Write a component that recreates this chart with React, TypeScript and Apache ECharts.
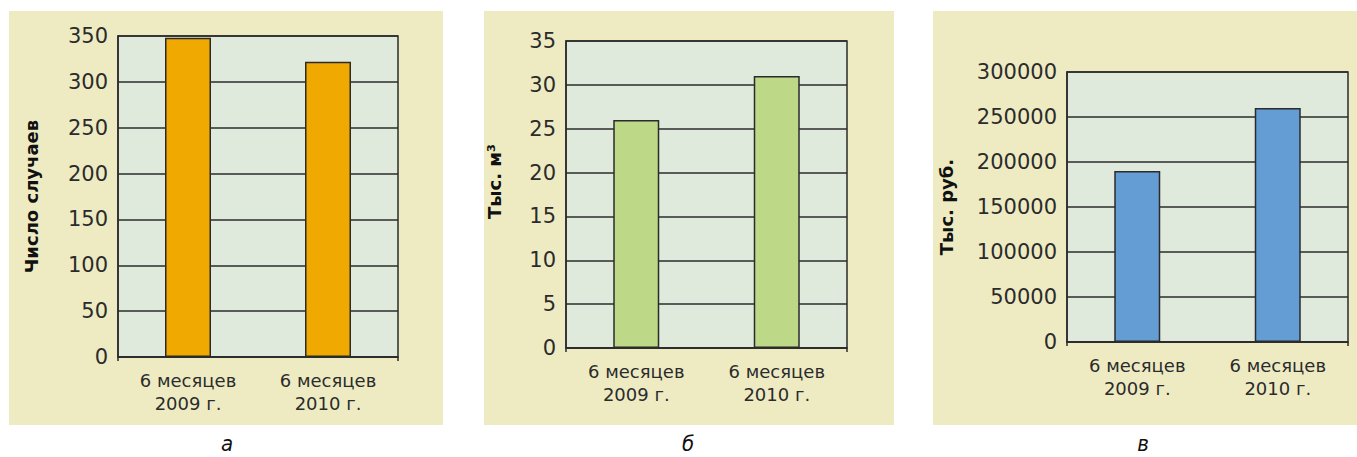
import React, { useEffect, useRef } from "react";
import * as echarts from "echarts";

const categories = ["6 месяцев\n2009 г.", "6 месяцев\n2010 г."];
const casesValues = [348, 322];
const volumeValues = [26, 31];
const costValues = [190000, 260000];
const captions = ["а", "б", "в"];
const yNames = ["Число случаев", "Тыс. м³", "Тыс. руб."];

const PANEL_BG = "#eeebc3";
const PLOT_BG = "#dfeadd";
const LINE = "#2b2b2b";
const TEXT = "#2b2b2b";
const FONT = "'DejaVu Sans'";

export default function App() {
  const ref = useRef<HTMLDivElement>(null);
  useEffect(() => {
    if (!ref.current) return;
    const chart = echarts.init(ref.current, null, { renderer: "svg" });
    const grids = [
      { left: 118, top: 36, width: 280, height: 321 },
      { left: 566, top: 41, width: 281, height: 307 },
      { left: 1067, top: 72, width: 281, height: 270 },
    ];
    const yCfg = [
      { max: 350, interval: 50, nameGap: 78, pad: [0, 0, 0, 0] },
      { max: 35, interval: 5, nameGap: 63, pad: [0, 0, 0, 26] },
      { max: 300000, interval: 50000, nameGap: 112, pad: [0, 0, 0, 0] },
    ];
    const colors = ["#f0a900", "#bdd886", "#639dd4"];
    const datasets = [casesValues, volumeValues, costValues];
    const option: any = {
      animation: false,
      graphic: [
        { type: "rect", shape: { x: 9, y: 11, width: 434, height: 414 }, style: { fill: PANEL_BG }, z: -10 },
        { type: "rect", shape: { x: 484, y: 11, width: 410, height: 414 }, style: { fill: PANEL_BG }, z: -10 },
        { type: "rect", shape: { x: 933, y: 11, width: 424, height: 414 }, style: { fill: PANEL_BG }, z: -10 },
        ...[227, 688, 1143].map((x, i) => ({
          type: "text",
          x,
          y: 443,
          style: {
            text: captions[i],
            fill: "#111",
            font: "italic 22px 'Liberation Sans Narrow', 'DejaVu Sans Condensed', sans-serif",
            textAlign: "center",
            textVerticalAlign: "middle",
          },
        })),
      ],
      grid: grids.map((g) => ({
        ...g,
        show: true,
        backgroundColor: PLOT_BG,
        borderColor: LINE,
        borderWidth: 1.5,
        containLabel: false,
      })),
      xAxis: grids.map((_, i) => ({
        type: "category",
        gridIndex: i,
        data: categories,
        axisLine: { show: true, lineStyle: { color: LINE, width: 1.5 } },
        axisTick: { show: true, length: 4, interval: (idx: number) => idx === 0, lineStyle: { color: LINE, width: 1.5 } },
        axisLabel: { color: TEXT, fontSize: 18, fontFamily: FONT, lineHeight: 23, margin: 12, interval: 0 },
        splitLine: { show: false },
      })),
      yAxis: grids.map((_, i) => ({
        type: "value",
        gridIndex: i,
        min: 0,
        max: yCfg[i].max,
        interval: yCfg[i].interval,
        name: yNames[i],
        nameLocation: "middle",
        nameGap: yCfg[i].nameGap,
        nameTextStyle: { color: "#111", fontSize: 18, fontWeight: "bold", fontFamily: FONT, padding: yCfg[i].pad },
        axisLine: { show: true, lineStyle: { color: LINE, width: 1.5 } },
        axisTick: { show: false },
        axisLabel: { color: TEXT, fontSize: 21, fontFamily: FONT, margin: 10, formatter: (v: number) => String(v) },
        splitLine: { show: true, lineStyle: { color: LINE, width: 1.5 } },
      })),
      series: datasets.map((d, i) => ({
        type: "bar",
        xAxisIndex: i,
        yAxisIndex: i,
        data: d,
        barWidth: 46,
        itemStyle: { color: colors[i], borderColor: LINE, borderWidth: 1.5 },
      })),
    };
    chart.setOption(option);
    return () => chart.dispose();
  }, []);
  return <div ref={ref} style={{ position: "absolute", left: 0, top: 0, width: 1357, height: 457 }} />;
}
